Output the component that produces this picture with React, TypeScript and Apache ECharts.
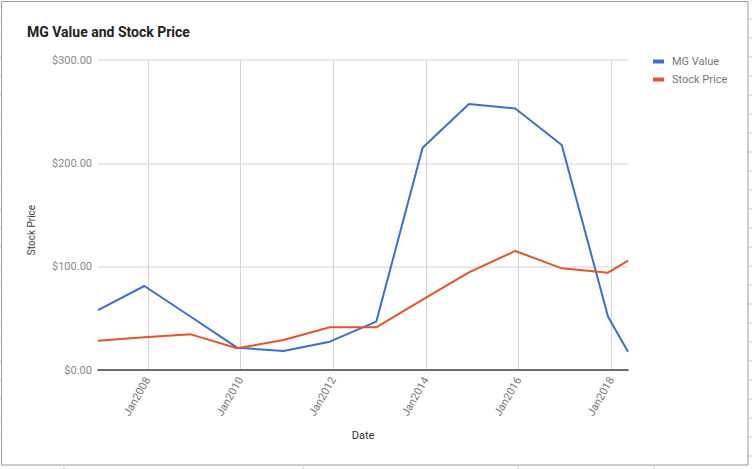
import React, { useEffect, useRef } from "react";
import * as echarts from "echarts";

const title = "MG Value and Stock Price";
const dates = [
  "2006-12-05", "2007-12-05", "2008-12-05", "2009-12-05", "2010-12-05", "2011-12-05",
  "2012-12-05", "2013-12-05", "2014-12-05", "2015-12-05", "2016-12-05", "2017-12-05", "2018-05-11",
];
const mgValue = [58, 81.3, 51.5, 21.6, 18.4, 27.4, 46.8, 215, 257.4, 253, 217.7, 51.6, 17.7];
const stockPrice = [28.4, 31.6, 34.5, 21, 29, 41.3, 41.3, 68, 94.5, 115.2, 98.4, 94.2, 105.8];
const tickYears = [2008, 2010, 2012, 2014, 2016, 2018];
const seriesNames = ["MG Value", "Stock Price"];
const colors = ["#3d6dd4", "#e8532b"];

export default function App() {
  const ref = useRef<HTMLDivElement>(null);
  useEffect(() => {
    document.body.style.margin = "0";
    if (!ref.current) return;
    const chart = echarts.init(ref.current, null, { renderer: "svg" });
    const t = dates.map((d) => Date.parse(d));
    const ticks = tickYears.map((y) => Date.UTC(y, 0, 1));
    const deco: any[] = [];
    for (let y = 19; y < 465; y += 19) {
      deco.push({ type: "line", shape: { x1: 0, y1: y, x2: 1.5, y2: y }, style: { stroke: "#c8c8c8", lineWidth: 1 } });
      deco.push({ type: "line", shape: { x1: 749, y1: y, x2: 752, y2: y }, style: { stroke: "#c8c8c8", lineWidth: 1 } });
    }
    [64, 303, 518, 654].forEach((x) =>
      deco.push({ type: "line", shape: { x1: x, y1: 466, x2: x, y2: 469 }, style: { stroke: "#c8c8c8", lineWidth: 1 } })
    );
    chart.setOption({
      animation: false,
      backgroundColor: "#ffffff",
      textStyle: { fontFamily: "Roboto" },
      title: {
        text: title,
        left: 27,
        top: 25,
        padding: 0,
        textStyle: { fontFamily: "Roboto", fontSize: 14, fontWeight: "bold", color: "#222" },
      },
      legend: {
        orient: "vertical",
        left: 653,
        top: 56,
        padding: 0,
        icon: "rect",
        itemWidth: 11,
        itemHeight: 4,
        itemGap: 7,
        data: seriesNames,
        textStyle: { color: "#777", fontSize: 11, fontFamily: "Roboto", padding: [0, 0, 0, 3] },
      },
      grid: { left: 98, top: 60, width: 530, height: 310, containLabel: false, outerBoundsMode: "none" },
      xAxis: {
        type: "value",
        min: t[0],
        max: t[t.length - 1],
        name: "Date",
        nameLocation: "middle",
        nameGap: 60,
        nameTextStyle: { color: "#333", fontSize: 11, fontFamily: "Roboto" },
        axisLine: { show: true, onZero: true, lineStyle: { color: "#444", width: 1.5 } },
        axisTick: { show: false, customValues: ticks },
        axisLabel: {
          customValues: ticks,
          rotate: 60,
          margin: 8,
          color: "#777",
          fontSize: 11,
          fontFamily: "Roboto",
          formatter: (v: number) => "Jan" + new Date(v).getUTCFullYear(),
        },
        splitLine: { show: true, lineStyle: { color: "#d4d4d4", width: 1 } },
      },
      yAxis: {
        type: "value",
        min: 0,
        max: 300,
        interval: 100,
        axisLine: { show: false },
        axisTick: { show: false },
        axisLabel: {
          color: "#888",
          fontSize: 11,
          fontFamily: "Roboto",
          margin: 6,
          formatter: (v: number) => "$" + v.toFixed(2),
        },
        splitLine: { show: true, lineStyle: { color: "#e2e2e2", width: 1.5 } },
      },
      graphic: [
        {
          type: "rect",
          shape: { x: 1.5, y: 1.5, width: 746.5, height: 463.5 },
          style: { fill: "none", stroke: "#9a9a9a", lineWidth: 1 },
        },
        {
          type: "text",
          x: 31,
          y: 230,
          rotation: Math.PI / 2,
          style: {
            text: "Stock Price",
            font: "10px Roboto",
            fill: "#444",
            align: "center",
            verticalAlign: "middle",
          },
        },
        ...deco,
      ],
      series: [mgValue, stockPrice].map((vals, k) => ({
        name: seriesNames[k],
        type: "line",
        symbol: "none",
        showSymbol: false,
        data: vals.map((v, i) => [t[i], v]),
        lineStyle: { color: colors[k], width: 2 },
        itemStyle: { color: colors[k] },
      })),
    });
    return () => chart.dispose();
  }, []);
  return <div ref={ref} style={{ position: "fixed", left: 0, top: 0, width: 752, height: 469 }} />;
}
